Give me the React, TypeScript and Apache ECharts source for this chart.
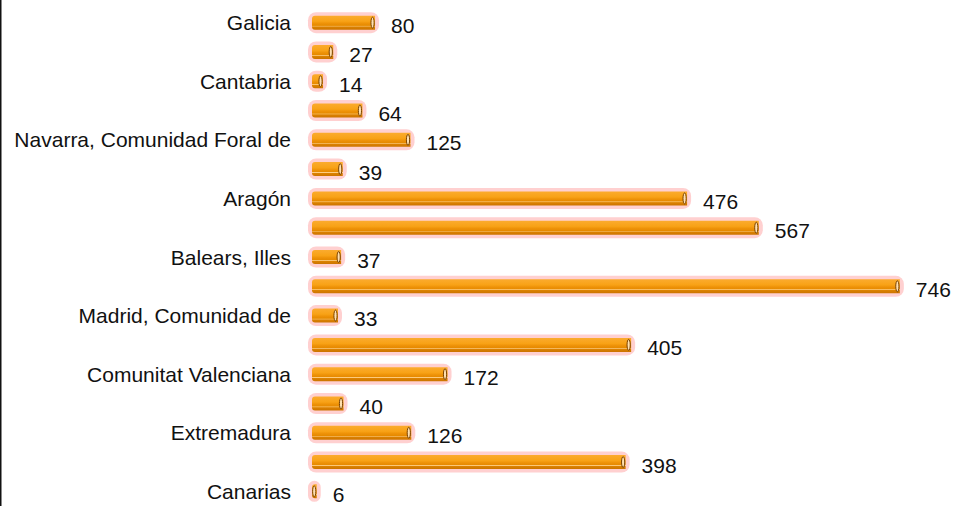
import React, { useEffect, useRef } from "react";
import * as echarts from "echarts";

const categories = [
  "Galicia",
  "Asturias, Principado de",
  "Cantabria",
  "País Vasco",
  "Navarra, Comunidad Foral de",
  "Rioja, La",
  "Aragón",
  "Cataluña",
  "Balears, Illes",
  "Castilla y León",
  "Madrid, Comunidad de",
  "Castilla - La Mancha",
  "Comunitat Valenciana",
  "Murcia, Región de",
  "Extremadura",
  "Andalucía",
  "Canarias",
];

const values = [80, 27, 14, 64, 125, 39, 476, 567, 37, 746, 33, 405, 172, 40, 126, 398, 6];

export default function App() {
  const ref = useRef<HTMLDivElement>(null);
  useEffect(() => {
    if (!ref.current) return;
    const chart = echarts.init(ref.current, undefined, { renderer: "svg" });
    const font = "'Liberation Sans', Arial, sans-serif";
    chart.setOption({
      animation: false,
      backgroundColor: "#ffffff",
      grid: { left: 312, top: 8, width: 630.4, height: 501.5, containLabel: false },
      xAxis: {
        type: "value",
        min: 0,
        max: 800,
        show: false,
        splitLine: { show: false },
      },
      yAxis: {
        type: "category",
        data: categories,
        inverse: true,
        axisLine: { show: false },
        axisTick: { show: false },
        axisLabel: {
          interval: 1,
          margin: 21,
          color: "#111",
          fontSize: 21,
          fontFamily: font,
          padding: [9, 0, 0, 0],
        },
      },
      graphic: [
        {
          type: "line",
          shape: { x1: 0.75, y1: 0, x2: 0.75, y2: 506 },
          style: { stroke: "#111", lineWidth: 1.5 },
        },
      ],
      series: [
        {
          type: "custom",
          data: values.map((v, i) => [v, i]),
          encode: { x: 0, y: 1 },
          renderItem: (params: any, api: any) => {
            const v = api.value(0);
            const idx = api.value(1);
            const s = api.coord([0, idx]);
            const e = api.coord([v, idx]);
            const cy = s[1];
            const len = Math.max(e[0] - s[0], 4);
            const x0 = s[0];
            return {
              type: "group",
              children: [
                {
                  type: "rect",
                  shape: { x: x0 - 4, y: cy - 10.5, width: len + 8, height: 21, r: 8 },
                  style: { fill: "#ffd0d0" },
                },
                {
                  type: "rect",
                  shape: { x: x0, y: cy - 7, width: len, height: 14, r: [3, 0, 0, 3] },
                  style: {
                    fill: new echarts.graphic.LinearGradient(0, 0, 0, 1, [
                      { offset: 0, color: "#fbab2e" },
                      { offset: 0.4, color: "#f8a216" },
                      { offset: 0.55, color: "#ee9208" },
                      { offset: 0.7, color: "#e68a00" },
                      { offset: 0.74, color: "#ffcf85" },
                      { offset: 0.8, color: "#dc8200" },
                      { offset: 1, color: "#cc7400" },
                    ]),
                  },
                },
                {
                  type: "ellipse",
                  shape: { cx: x0 + len - 2.5, cy: cy, rx: 1.6, ry: 5.5 },
                  style: { fill: "#ffe0b0", stroke: "#7a4200", lineWidth: 1 },
                },
                {
                  type: "text",
                  x: x0 + len + 16,
                  y: cy + 3,
                  style: {
                    text: String(v),
                    fill: "#111",
                    fontSize: 21,
                    fontFamily: font,
                    verticalAlign: "middle",
                    align: "left",
                  },
                },
              ],
            };
          },
        },
      ],
    });
    return () => chart.dispose();
  }, []);
  return (
    <div
      ref={ref}
      style={{ position: "fixed", left: 0, top: 0, width: 955, height: 506 }}
    />
  );
}
